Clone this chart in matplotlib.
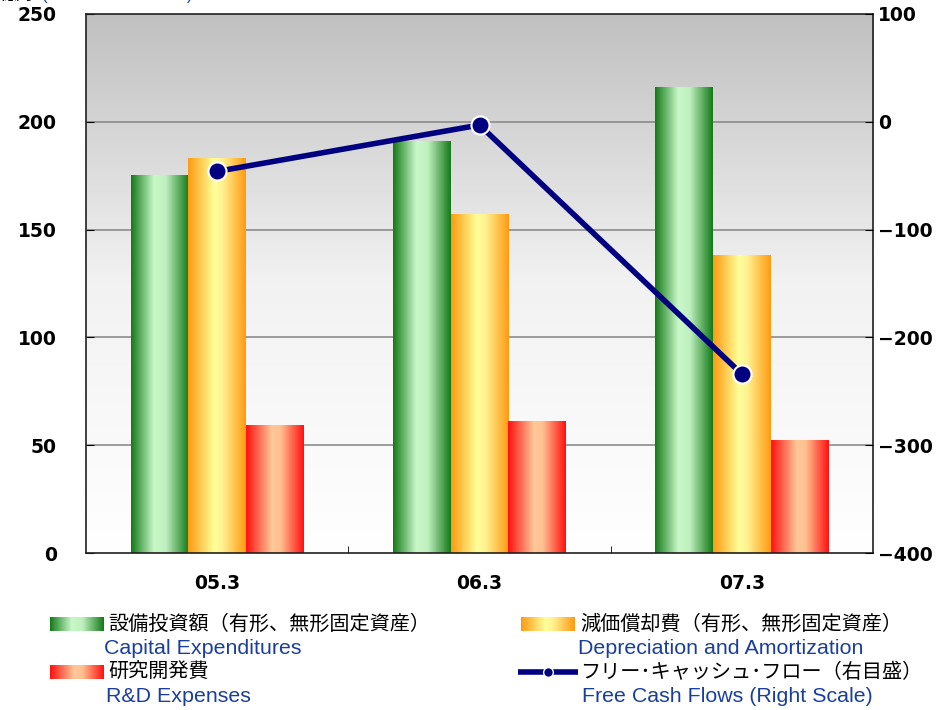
import numpy as np
import matplotlib
matplotlib.use("Agg")
import matplotlib.pyplot as plt
from matplotlib.colors import LinearSegmentedColormap

plt.rcParams['font.family'] = ['Noto Sans CJK JP', 'DejaVu Sans']

# data (100 millions of yen)
periods = ['05.3', '06.3', '07.3']
capex = [175, 191, 216]
depreciation = [183, 157, 138]
rnd = [59, 61, 52]
fcf = [-46, -3, -234]

left_ticks = [0, 50, 100, 150, 200, 250]
right_ticks = [-400, -300, -200, -100, 0, 100]

# gradient colour maps (left edge -> highlight -> right edge)
cm_green = LinearSegmentedColormap.from_list('g', [(0, '#137a17'), (0.4, '#c8f8c8'), (0.6, '#c0f0c0'), (1, '#137a17')])
cm_orange = LinearSegmentedColormap.from_list('o', [(0, '#ff9a10'), (0.45, '#ffff99'), (0.6, '#fff090'), (1, '#ff9a10')])
cm_red = LinearSegmentedColormap.from_list('r', [(0, '#ff1010'), (0.45, '#ffc898'), (0.6, '#ffc090'), (1, '#ff1010')])
grad = np.linspace(0, 1, 256).reshape(1, -1)

fig = plt.figure(figsize=(9.44, 7.10), dpi=100)
ax = fig.add_axes([0.0911, 0.2211, 0.8337, 0.7592])

# background gradient
bg = np.linspace(0, 1, 256).reshape(-1, 1)
bg_cmap = LinearSegmentedColormap.from_list('bg', ['#ffffff', '#f2f2f2', '#c0c0c0'])
ax.imshow(bg, cmap=bg_cmap, aspect='auto', extent=[0, 1, 0, 1], transform=ax.transAxes,
          origin='lower', zorder=0)

x = np.arange(len(periods))
w = 0.22
for offs, vals, cm in [(-w, capex, cm_green), (0, depreciation, cm_orange), (w, rnd, cm_red)]:
    bars = ax.bar(x + offs, vals, width=w, color='none', zorder=2)
    for b in bars:
        x0, y0 = b.get_x(), b.get_y()
        ax.imshow(grad, cmap=cm, aspect='auto',
                  extent=[x0, x0 + b.get_width(), y0, y0 + b.get_height()], zorder=2)

ax.set_xlim(-0.5, 2.5)
ax.set_ylim(0, 250)
ax.set_yticks(left_ticks)
ax.set_xticks(x)
ax.set_xticklabels(periods)
ax.set_xticks([0.5, 1.5], minor=True)
ax.tick_params(axis='x', which='major', length=0, pad=15)
ax.tick_params(axis='x', which='minor', direction='in', length=5)
ax.tick_params(axis='y', direction='in', length=6, pad=21)
for lab in ax.get_yticklabels() + ax.get_xticklabels():
    lab.set_fontweight('bold')
    lab.set_fontsize(13.5)
    lab.set_family('DejaVu Sans')
for yv in left_ticks[1:-1]:
    ax.axhline(yv, color='#8c8c8c', lw=1.2, zorder=1)
for s in ax.spines.values():
    s.set_color('#202020')
    s.set_linewidth(1.2)

ax2 = ax.twinx()
ax2.set_ylim(-400, 100)
ax2.set_yticks(right_ticks)
ax2.set_yticklabels([str(v).replace('-', '\u2212') for v in right_ticks])
ax2.tick_params(axis='y', direction='in', length=6, pad=3.5)
for lab in ax2.get_yticklabels():
    lab.set_fontweight('bold')
    lab.set_fontsize(13.5)
    lab.set_family('DejaVu Sans')
ax2.plot(x, fcf, color='#000080', lw=4, marker='o', markersize=13,
         markerfacecolor='#000080', markeredgecolor='white', markeredgewidth=1.5, zorder=5)
for s in ax2.spines.values():
    s.set_visible(False)

# unit label, cut at top edge as in the source
fig.text(0.0, 1.006, '億円', fontsize=12, va='center', ha='left')
fig.text(0.045, 1.006, '(100 Millions of Yen)', fontsize=12, va='center', ha='left',
         color='#1a44b0', family='Liberation Sans')

# legend
blue = '#1a3ea0'
def swatch(x0, y0, cm):
    sa = fig.add_axes([x0 / 944, 1 - (y0 + 7) / 710, 54 / 944, 14 / 710])
    sa.imshow(grad, cmap=cm, aspect='auto')
    sa.axis('off')

swatch(50, 624, cm_green)
swatch(50, 672, cm_red)
swatch(521, 624, cm_orange)
la = fig.add_axes([518 / 944, 1 - 680 / 710, 60 / 944, 16 / 710])
la.plot([0, 1], [0, 0], color='#000080', lw=4)
la.plot([0.5], [0], 'o', color='#000080', markersize=7, markeredgecolor='white', markeredgewidth=1)
la.set_xlim(0, 1)
la.set_ylim(-1, 1)
la.axis('off')

fs_j = 14.5
fs_e = 15.4
fig.text(108 / 944, 1 - 624 / 710, '設備投資額（有形、無形固定資産）', fontsize=fs_j, va='center')
fig.text(104 / 944, 1 - 648 / 710, 'Capital Expenditures', fontsize=fs_e, va='center',
         color=blue, family='Liberation Sans')
fig.text(108 / 944, 1 - 672 / 710, '研究開発費', fontsize=fs_j, va='center')
fig.text(106 / 944, 1 - 697 / 710, 'R&D Expenses', fontsize=fs_e, va='center',
         color=blue, family='Liberation Sans')
fig.text(580 / 944, 1 - 624 / 710, '減価償却費（有形、無形固定資産）', fontsize=fs_j, va='center')
fig.text(578 / 944, 1 - 648 / 710, 'Depreciation and Amortization', fontsize=fs_e, va='center',
         color=blue, family='Liberation Sans')
fig.text(580 / 944, 1 - 672 / 710, 'フリー･キャッシュ･フロー（右目盛）', fontsize=fs_j, va='center')
fig.text(582 / 944, 1 - 697 / 710, 'Free Cash Flows (Right Scale)', fontsize=fs_e, va='center',
         color=blue, family='Liberation Sans')

fig.savefig('out.png', dpi=100)
